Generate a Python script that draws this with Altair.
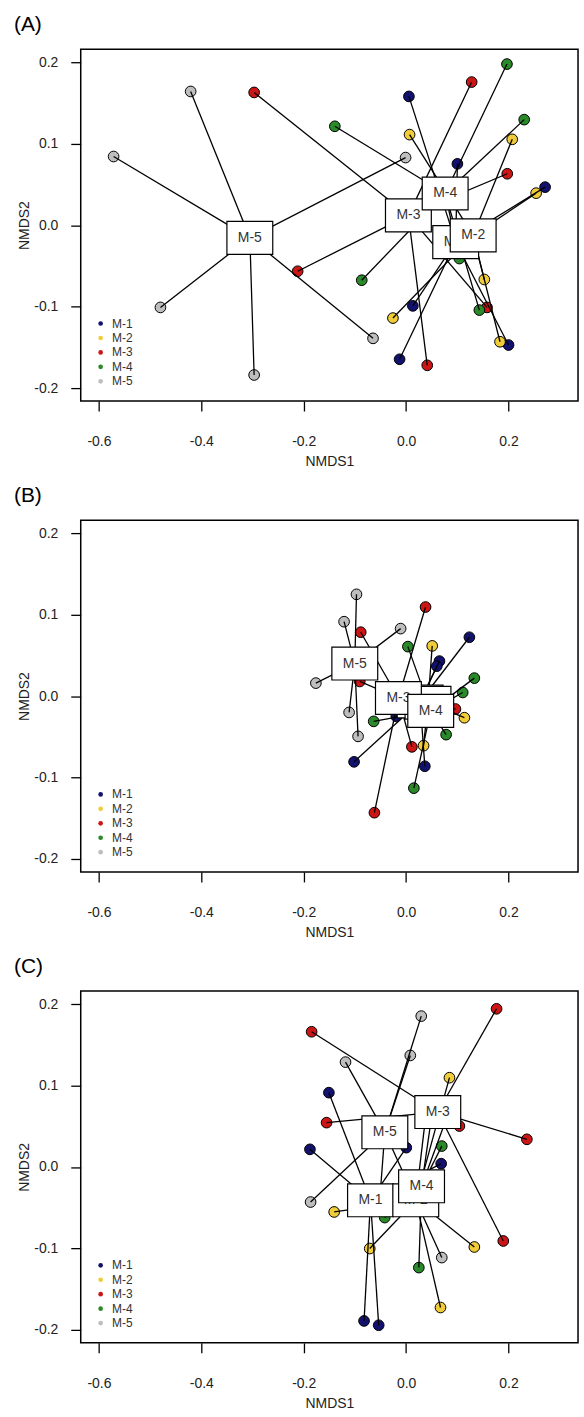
import altair as alt
import pandas as pd

FONT = "Liberation Sans, Arial, sans-serif"
groups = ["M-1", "M-2", "M-3", "M-4", "M-5"]
colors = ["#12126E", "#F0CC38", "#CC1616", "#2A8A2A", "#BEBEBE"]

x_ticks = [-0.6, -0.4, -0.2, 0.0, 0.2]
y_ticks = [-0.2, -0.1, 0.0, 0.1, 0.2]
x_domain = [-0.6355, 0.3358]
y_domain = [-0.216, 0.216]

# ---------- Panel A ----------
a_grp = ["M-1"] * 6 + ["M-2"] * 6 + ["M-3"] * 6 + ["M-4"] * 6 + ["M-5"] * 6
a_x = [0.0055, 0.1002, 0.2715, 0.0132, -0.0127, 0.2001,
       0.0068, 0.2073, 0.2540, -0.0257, 0.1528, 0.1834,
       -0.2968, 0.1281, 0.1976, -0.2118, 0.0413, 0.1581,
       0.1970, -0.1392, 0.2307, -0.0866, 0.1431, 0.1041,
       -0.5713, -0.4208, -0.4798, -0.2968, -0.0010, -0.0646]
a_y = [0.1581, 0.0753, 0.0467, -0.0991, -0.1647, -0.1472,
       0.1112, 0.1054, 0.0393, -0.1141, -0.0667, -0.1432,
       0.1630, 0.1757, 0.0631, -0.0566, -0.1721, -0.1010,
       0.1978, 0.1214, 0.1296, -0.0676, -0.1043, -0.0410,
       0.0843, 0.1642, -0.1010, -0.1840, 0.0830, -0.1390]
a_cx = [0.0969, 0.1310, 0.0045, 0.0763, -0.3052]
a_cy = [-0.0208, -0.0125, 0.0120, 0.0389, -0.0156]

# ---------- Panel B ----------
b_grp = a_grp
b_x = [0.1236, 0.0652, 0.0600, -0.1016, 0.0366, -0.0191,
       0.0510, 0.1139, 0.0341, 0.0652, 0.0808, 0.0457,
       0.0380, -0.0886, -0.0905, 0.0113, -0.0619, 0.0964,
       0.0035, 0.1333, 0.1106, -0.0633, 0.0782, 0.0152,
       -0.0969, -0.1211, -0.0107, -0.1762, -0.1113, -0.0938]
b_y = [0.0722, 0.0429, 0.0367, -0.0808, -0.0862, -0.0250,
       0.0616, -0.0266, -0.0609, -0.0107, -0.0229, -0.0045,
       0.1093, 0.0784, 0.0179, -0.0624, -0.1432, -0.0159,
       0.0607, 0.0220, 0.0044, -0.0311, -0.0474, -0.1131,
       0.1249, 0.0913, 0.0828, 0.0159, -0.0201, -0.0495]
b_cx = [0.0274, 0.0428, -0.0150, 0.0481, -0.1002]
b_cy = [-0.0067, -0.0082, -0.0024, -0.0182, 0.0399]

# ---------- Panel C ----------
c_grp = a_grp
c_x = [-0.1508, -0.1878, 0.0685, -0.0821, -0.0535, 0.0004,
       0.0847, -0.1405, -0.0710, 0.1333, 0.0672, 0.0399,
       0.1767, -0.1845, -0.1553, 0.2359, 0.1041, 0.1898,
       0.0697, 0.0249, -0.0418, 0.0496, 0.0769, 0.0010,
       0.0296, 0.0082, -0.1183, -0.1865, 0.0697, -0.0516]
c_y = [0.0912, 0.0216, 0.0040, -0.1891, -0.1944, 0.0237,
       0.1096, -0.0553, -0.1002, -0.0983, -0.1726, 0.0707,
       0.1942, 0.1660, 0.0544, 0.0339, 0.0502, -0.0909,
       0.0256, -0.1236, -0.0622, 0.0609, 0.0560, -0.0250,
       0.1852, 0.1369, 0.1287, -0.0431, -0.1113, -0.0417]
c_cx = [-0.0695, 0.0189, 0.0619, 0.0302, -0.0415]
c_cy = [-0.0410, -0.0410, 0.0674, -0.0238, 0.0425]

BOX = "M-1.394,-1L1.394,-1L1.394,1L-1.394,1Z"
LBL = "(datum.value < 0 ? '-' : '') + format(abs(datum.value), '.1f')"

common_axis = dict(domain=False, grid=False, tickColor="black", tickWidth=1.3,
                   tickSize=10, labelFont=FONT, labelFontSize=14,
                   labelColor="#222222", titleFont=FONT, titleFontSize=14,
                   titleFontWeight="normal", titleColor="#222222", labelExpr=LBL)
xscale = alt.Scale(domain=x_domain, nice=False, zero=False)
yscale = alt.Scale(domain=y_domain, nice=False, zero=False)
xaxis = alt.Axis(values=x_ticks, title="NMDS1", labelPadding=24, titlePadding=6,
                 **common_axis)
yaxis = alt.Axis(values=y_ticks, title="NMDS2", labelPadding=13, titleX=-56.7,
                 titleY=176.5, titleBaseline="middle", **common_axis)
X = alt.X("x:Q", scale=xscale, axis=xaxis)
Y = alt.Y("y:Q", scale=yscale, axis=yaxis)


def panel(tag, grp, xs, ys, cxs, cys):
    pts = pd.DataFrame({"grp": grp, "x": xs, "y": ys})
    cen = pd.DataFrame({"grp": groups, "cx": cxs, "cy": cys})
    seg = pts.merge(cen, on="grp")
    cen2 = cen.rename(columns={"cx": "x", "cy": "y"})

    points = alt.Chart(pts).mark_point(
        filled=True, shape="circle", size=115, stroke="black",
        strokeWidth=1, opacity=1
    ).encode(
        x=X, y=Y,
        fill=alt.Fill("grp:N", scale=alt.Scale(domain=groups, range=colors),
                      legend=alt.Legend(orient="none", legendX=14, legendY=269.2,
                                        title=None, symbolType="circle",
                                        symbolSize=22, symbolStrokeWidth=0,
                                        labelFontSize=12, labelFont=FONT,
                                        labelColor="#333333", rowPadding=2.5,
                                        labelOffset=5.5, padding=0)),
    )
    lines = alt.Chart(seg).mark_rule(color="black", strokeWidth=1.3).encode(
        x=X, y=Y, x2="cx:Q", y2="cy:Q"
    )
    layers = [points, lines]
    for g in groups:
        c = cen2[cen2.grp == g]
        box = alt.Chart(c).mark_point(
            shape=BOX, size=1089, filled=True, fill="white", stroke="black",
            strokeWidth=1.2, opacity=1
        ).encode(x=X, y=Y)
        txt = alt.Chart(c).mark_text(fontSize=14, font=FONT, color="#333333").encode(
            x=X, y=Y, text="grp:N"
        )
        layers += [box, txt]
    return alt.layer(*layers).properties(
        width=499, height=353,
        title=alt.TitleParams(tag, anchor="start", frame="group", dx=-67, offset=14,
                              fontSize=21, fontWeight="normal", font=FONT,
                              color="black"),
    )


chart = alt.vconcat(
    panel("(A)", a_grp, a_x, a_y, a_cx, a_cy),
    panel("(B)", b_grp, b_x, b_y, b_cx, b_cy),
    panel("(C)", c_grp, c_x, c_y, c_cx, c_cy),
    spacing=14.5,
).resolve_scale(fill="independent").properties(
    padding={"left": 13, "top": 11, "right": 5, "bottom": 5},
    background="white",
).configure_view(stroke="black", strokeWidth=1.5)

chart.save("out.html", embed_options={"renderer": "svg", "actions": False})
